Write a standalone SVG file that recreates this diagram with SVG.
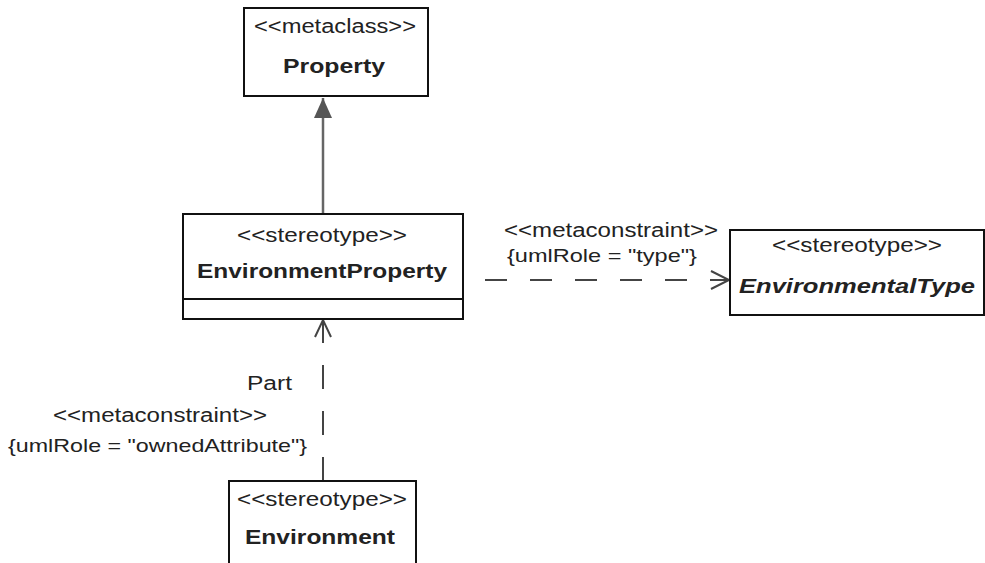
<svg xmlns="http://www.w3.org/2000/svg" width="985" height="563" viewBox="0 0 985 563">
<style>
.box{fill:#fff;stroke:#111;stroke-width:2}
.t{font-family:"Liberation Sans",Arial,sans-serif;fill:#222;font-size:20px}
.b{font-weight:bold;font-size:21px}
.bi{font-weight:bold;font-style:italic;font-size:21px}
.s{font-size:19px}
.gen{stroke:#666;stroke-width:2.5;fill:none}
.dash{stroke:#444;stroke-width:2;fill:none}
.open{stroke:#444;stroke-width:2;fill:none}
</style>
<defs>
<marker id="tri" markerWidth="24" markerHeight="18" refX="20" refY="9" orient="auto" markerUnits="userSpaceOnUse">
<path d="M0,0 L20,9 L0,18 Z" fill="#555"/>
</marker>
</defs>
<rect width="985" height="563" fill="#fff"/>
<g id="connectors">
<line class="gen" x1="323" y1="214" x2="323" y2="98" marker-end="url(#tri)"/>
<line class="dash" x1="485" y1="280" x2="729" y2="280" stroke-dasharray="22 23"/>
<path class="open" d="M711,271 L729,280 L711,289"/>
<line class="dash" x1="323" y1="481" x2="323" y2="321" stroke-dasharray="24 22"/>
<path class="open" d="M315,337 L323,320 L331,337"/>
</g>
<g id="property">
<rect class="box" x="244" y="8" width="184" height="88"/>
<text class="t" x="335" y="33" text-anchor="middle" textLength="162" lengthAdjust="spacingAndGlyphs">&lt;&lt;metaclass&gt;&gt;</text>
<text class="t b" x="334" y="73" text-anchor="middle" textLength="102" lengthAdjust="spacingAndGlyphs">Property</text>
</g>
<g id="environmentProperty">
<rect class="box" x="183" y="214" width="280" height="105"/>
<line x1="183" y1="299" x2="463" y2="299" stroke="#111" stroke-width="2"/>
<text class="t" x="322" y="242" text-anchor="middle" textLength="170" lengthAdjust="spacingAndGlyphs">&lt;&lt;stereotype&gt;&gt;</text>
<text class="t b" x="322" y="278" text-anchor="middle" textLength="250" lengthAdjust="spacingAndGlyphs">EnvironmentProperty</text>
</g>
<g id="environmentalType">
<rect class="box" x="730" y="230" width="254" height="85"/>
<text class="t" x="857" y="252" text-anchor="middle" textLength="170" lengthAdjust="spacingAndGlyphs">&lt;&lt;stereotype&gt;&gt;</text>
<text class="t bi" x="857" y="293" text-anchor="middle" textLength="236" lengthAdjust="spacingAndGlyphs">EnvironmentalType</text>
</g>
<g id="environment">
<rect class="box" x="229" y="481" width="187" height="95"/>
<text class="t" x="322" y="506" text-anchor="middle" textLength="170" lengthAdjust="spacingAndGlyphs">&lt;&lt;stereotype&gt;&gt;</text>
<text class="t b" x="320" y="544" text-anchor="middle" textLength="150" lengthAdjust="spacingAndGlyphs">Environment</text>
</g>
<g id="labels">
<text class="t" x="504" y="237" textLength="214" lengthAdjust="spacingAndGlyphs">&lt;&lt;metaconstraint&gt;&gt;</text>
<text class="t s" x="507" y="262" textLength="190" lengthAdjust="spacingAndGlyphs">{umlRole = "type"}</text>
<text class="t" x="247" y="390" font-size="22" textLength="45" lengthAdjust="spacingAndGlyphs">Part</text>
<text class="t" x="53" y="422" textLength="214" lengthAdjust="spacingAndGlyphs">&lt;&lt;metaconstraint&gt;&gt;</text>
<text class="t s" x="8" y="452" textLength="299" lengthAdjust="spacingAndGlyphs">{umlRole = "ownedAttribute"}</text>
</g>
</svg>
